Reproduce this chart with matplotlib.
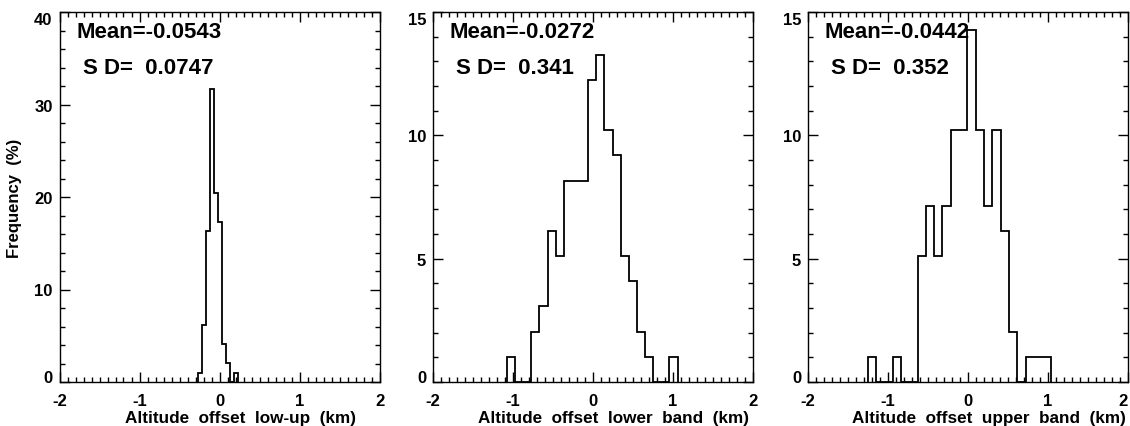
import numpy as np
import matplotlib
matplotlib.use("Agg")
import matplotlib.pyplot as plt
from matplotlib.ticker import MultipleLocator

plt.rcParams['font.family'] = ['Liberation Sans', 'DejaVu Sans']
plt.rcParams['font.weight'] = 'bold'

# counts per bin (percent = count / total * 100)
counts_lowup = [1, 6, 16, 31, 20, 17, 4, 2, 0, 1]
start_lowup, width_lowup = -0.265, 0.05

counts_lower = [1, 0, 0, 2, 3, 6, 5, 8, 8, 8, 12, 13, 10, 9, 5, 4, 2, 1, 0, 0, 1]
start_lower, width_lower = -1.075, 0.1015

counts_upper = [1, 0, 0, 1, 0, 0, 5, 7, 5, 7, 10, 10, 14, 10, 7, 10, 6, 2, 0, 1, 1, 1]
start_upper, width_upper = -1.255, 0.104

means = ['-0.0543', '-0.0272', '-0.0442']
sds = ['0.0747', '0.341', '0.352']
xlabels = ['Altitude  offset  low-up  (km)',
           'Altitude  offset  lower  band  (km)',
           'Altitude  offset  upper  band  (km)']
ymax = [40, 15, 15]
ymajor = [10, 5, 5]
yminor = [2, 1, 1]

panels = [(counts_lowup, start_lowup, width_lowup),
          (counts_lower, start_lower, width_lower),
          (counts_upper, start_upper, width_upper)]

W, H = 1130, 427
fig = plt.figure(figsize=(W / 100, H / 100), dpi=100)
lefts = [59.5, 433, 808]
axw, top, bot = 320, 13, 383

for i, (cnt, start, wid) in enumerate(panels):
    ax = fig.add_axes([lefts[i] / W, (H - bot) / H, axw / W, (bot - top) / H])
    cnt = np.array(cnt, dtype=float)
    pct = cnt / cnt.sum() * 100
    edges = start + wid * np.arange(len(cnt) + 1)
    ax.stairs(pct, edges, color='black', lw=1.3, baseline=0)
    ax.set_xlim(-2, 2)
    ax.set_ylim(0, ymax[i])
    ax.xaxis.set_major_locator(MultipleLocator(1))
    ax.xaxis.set_minor_locator(MultipleLocator(0.1))
    ax.yaxis.set_major_locator(MultipleLocator(ymajor[i]))
    ax.yaxis.set_minor_locator(MultipleLocator(yminor[i]))
    ax.tick_params(which='both', direction='in', top=True, right=True, width=1)
    ax.tick_params(which='major', length=7)
    ax.tick_params(which='minor', length=3.5)
    ax.tick_params(axis='x', pad=8, labelsize=12)
    ax.tick_params(axis='y', pad=5, labelsize=12)
    for s in ax.spines.values():
        s.set_linewidth(1)
    ax.set_xticks([-2, -1, 0, 1, 2])
    xlabs = ax.set_xticklabels(['-2', '-1', '0', '1', '2'], fontweight='bold')
    if i == 2:
        xlabs[-1].set_ha('right')
    yt = np.arange(0, ymax[i] + 1, ymajor[i])
    ax.set_yticks(yt)
    ylabs = ax.set_yticklabels([str(v) for v in yt], fontweight='bold')
    ylabs[0].set_va('baseline')
    ylabs[-1].set_va('top')

    ax.text(0.053, 0.947, 'Mean=' + means[i], transform=ax.transAxes,
            fontsize=16, fontweight='bold', va='center', ha='left')
    ax.text(0.072, 0.85, 'S D=  ' + sds[i], transform=ax.transAxes,
            fontsize=16, fontweight='bold', va='center', ha='left')
    ax.text(0.565, -0.095, xlabels[i], transform=ax.transAxes,
            fontsize=12.3, fontweight='bold', ha='center', va='center')
    if i == 0:
        ax.set_ylabel('Frequency  (%)', fontsize=12, fontweight='bold', labelpad=9)

fig.savefig('out.png', dpi=100)
